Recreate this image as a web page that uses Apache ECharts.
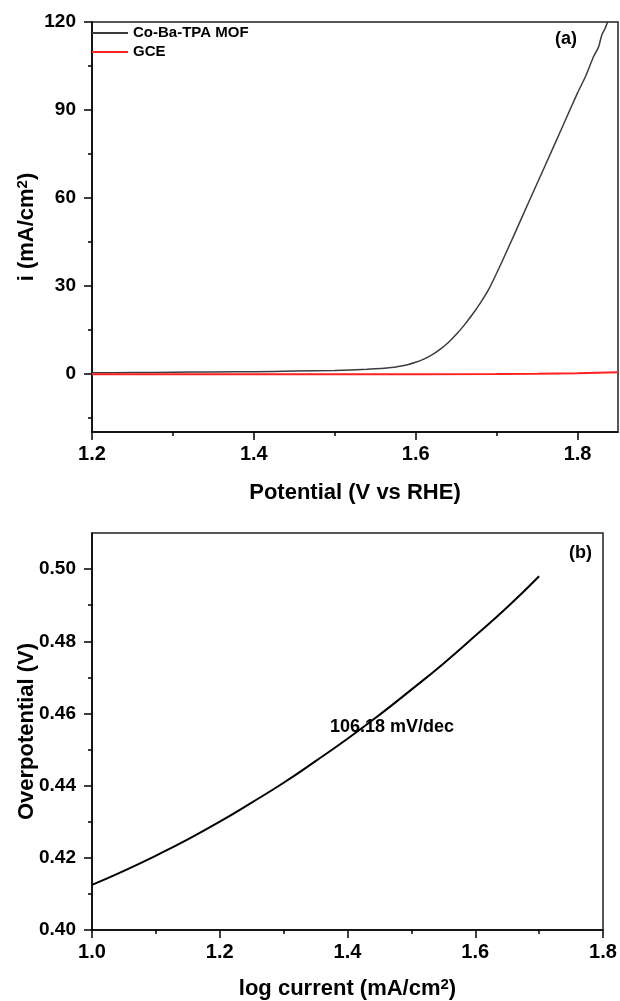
<!DOCTYPE html>
<html>
<head>
<meta charset="utf-8">
<script src="https://cdn.jsdelivr.net/npm/echarts@6/dist/echarts.min.js"></script>
<style>html,body{margin:0;padding:0;background:#fff;}#c{width:620px;height:1001px;}</style>
</head>
<body>
<div id="c"></div>
<script>
// ---- Panel (a) data ----
const potentialMOF = [1.20,1.25,1.30,1.35,1.40,1.45,1.50,1.54,1.57,1.59,1.60,1.61,1.62,1.63,1.64,1.65,1.66,1.67,1.68,1.69,1.70,1.71,1.72,1.74,1.76,1.78,1.80,1.81,1.82,1.826,1.83,1.834,1.838,1.842];
const currentMOF   = [0.2,0.3,0.4,0.5,0.6,0.8,1.0,1.4,2.0,3.0,3.8,4.9,6.3,8.2,10.5,13.3,16.5,20.1,24.1,28.6,34.2,40.2,46.3,58.7,71.0,83.4,95.8,101.5,108.3,111.5,115.6,117.8,120.5,122];
const potentialGCE = [1.20,1.30,1.40,1.50,1.60,1.70,1.75,1.80,1.85];
const currentGCE   = [-0.3,-0.3,-0.3,-0.3,-0.3,-0.2,-0.1,0.1,0.4];
const aYMajor = [0,30,60,90,120];
const aYMinor = [-15,15,45,75,105];
const aXMajor = [1.2,1.4,1.6,1.8];
const aXMinor = [1.3,1.5,1.7];

// ---- Panel (b) data ----
const logCurrent    = [1.00,1.05,1.10,1.15,1.20,1.25,1.30,1.35,1.40,1.45,1.50,1.55,1.60,1.65,1.70];
const overpotential = [0.4125,0.4164,0.4206,0.4251,0.4300,0.4353,0.4408,0.4468,0.4530,0.4596,0.4666,0.4738,0.4815,0.4894,0.4980];
const bYMajor = [0.40,0.42,0.44,0.46,0.48,0.50];
const bYMinor = [0.41,0.43,0.45,0.47,0.49];
const bXMajor = [1.0,1.2,1.4,1.6,1.8];
const bXMinor = [1.1,1.3,1.5,1.7];

const FONT = '"Liberation Sans", Arial, sans-serif';
const zip = (xs, ys) => xs.map((x, i) => [x, ys[i]]);

const gA = {left: 92, top: 22, width: 526, height: 410};
const gB = {left: 92, top: 533, width: 511, height: 397};

function gridOf(g, show) {
  return Object.assign({show: show, borderColor: '#222', borderWidth: 1.5, backgroundColor: 'transparent',
    containLabel: false, outerBoundsMode: 'none'}, g);
}
const xLabelStyle = {color: '#000', fontFamily: FONT, fontWeight: 'bold', fontSize: 20};
const yLabelStyle = {color: '#000', fontFamily: FONT, fontWeight: 'bold', fontSize: 19};
const nameStyle = {color: '#000', fontFamily: FONT, fontWeight: 'bold', fontSize: 22,
  rich: {s: {fontFamily: FONT, fontWeight: 'bold', fontSize: 15, padding: [0, 0, 9, 0], color: '#000'}}};
const axLine = {show: true, onZero: false, lineStyle: {color: '#000', width: 1.5}};

function mainAxis(idx, min, max, major, fmt, name, gap, margin, lbl) {
  return {
    type: 'value', gridIndex: idx, min: min, max: max,
    axisLine: axLine, splitLine: {show: false},
    axisTick: {show: true, customValues: major, length: 8, lineStyle: {color: '#000', width: 1.5}},
    axisLabel: Object.assign({customValues: major, margin: margin, formatter: fmt}, lbl),
    name: name, nameLocation: 'middle', nameGap: gap, nameMoveOverlap: false, nameTextStyle: nameStyle
  };
}
function minorAxis(idx, min, max, minor) {
  return {
    type: 'value', gridIndex: idx, min: min, max: max,
    axisLine: {show: false, onZero: false}, splitLine: {show: false},
    axisTick: {show: true, customValues: minor, length: 4, lineStyle: {color: '#000', width: 1.5}},
    axisLabel: {show: false, customValues: minor}
  };
}

const option = {
  backgroundColor: '#fff',
  animation: false,
  grid: [gridOf(gA, true), gridOf(gA, false), gridOf(gB, true), gridOf(gB, false)],
  xAxis: [
    mainAxis(0, 1.2, 1.85, aXMajor, v => v.toFixed(1), 'Potential (V vs RHE)', 50, 12, xLabelStyle),
    minorAxis(1, 1.2, 1.85, aXMinor),
    mainAxis(2, 1.0, 1.8, bXMajor, v => v.toFixed(1), 'log current (mA/cm{s|2})', 47, 12, xLabelStyle),
    minorAxis(3, 1.0, 1.8, bXMinor)
  ],
  yAxis: [
    mainAxis(0, -20, 120, aYMajor, v => String(Math.round(v)), 'i (mA/cm{s|2})', 53, 16, yLabelStyle),
    minorAxis(1, -20, 120, aYMinor),
    mainAxis(2, 0.40, 0.51, bYMajor, v => v.toFixed(2), 'Overpotential (V)', 54, 16, yLabelStyle),
    minorAxis(3, 0.40, 0.51, bYMinor)
  ],
  legend: {
    left: 92, top: 25, orient: 'vertical', padding: 0, itemGap: 3,
    itemWidth: 36, itemHeight: 2, icon: 'rect',
    textStyle: {color: '#000', fontFamily: FONT, fontWeight: 'bold', fontSize: 15, lineHeight: 16},
    data: ['Co-Ba-TPA MOF', 'GCE']
  },
  series: [
    {name: 'GCE', type: 'line', xAxisIndex: 0, yAxisIndex: 0, data: zip(potentialGCE, currentGCE),
     showSymbol: false, clip: true, lineStyle: {color: '#ff2020', width: 2}, itemStyle: {color: '#ff2020'}, z: 3},
    {name: 'Co-Ba-TPA MOF', type: 'line', xAxisIndex: 0, yAxisIndex: 0, data: zip(potentialMOF, currentMOF),
     showSymbol: false, clip: true, smooth: 0.2, lineStyle: {color: '#3c3c3c', width: 1.5}, itemStyle: {color: '#3c3c3c'}, z: 2},
    {name: 'Tafel', type: 'line', xAxisIndex: 2, yAxisIndex: 2, data: zip(logCurrent, overpotential),
     showSymbol: false, clip: true, smooth: true, lineStyle: {color: '#000', width: 2}, itemStyle: {color: '#000'}}
  ],
  graphic: [
    {type: 'text', left: 555, top: 30, style: {text: '(a)', fill: '#000', font: 'bold 18px ' + FONT}},
    {type: 'text', left: 569, top: 544, style: {text: '(b)', fill: '#000', font: 'bold 18px ' + FONT}},
    {type: 'text', left: 330, top: 718, style: {text: '106.18 mV/dec', fill: '#000', font: 'bold 18px ' + FONT}}
  ]
};
const chart = echarts.init(document.getElementById('c'), null, {renderer: 'canvas'});
chart.setOption(option);
</script>
</body>
</html>
